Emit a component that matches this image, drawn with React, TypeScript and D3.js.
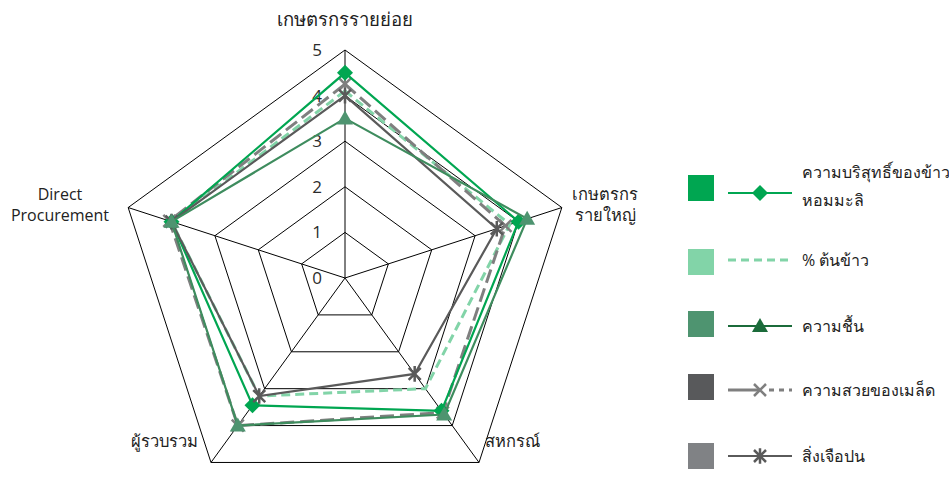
import React from "react";
import * as d3 from "d3";

// Axes of the quality radar, clockwise from the top
const axes: string[][] = [
  ["เกษตรกรรายย่อย"],
  ["เกษตรกร", "รายใหญ่"],
  ["สหกรณ์"],
  ["ผู้รวบรวม"],
  ["Direct", "Procurement"],
];

const seriesNames = [
  "ความบริสุทธิ์ของข้าวหอมมะลิ",
  "% ต้นข้าว",
  "ความชื้น",
  "ความสวยของเมล็ด",
  "สิ่งเจือปน",
];

// Scores per axis (same order as axes)
const purity = [4.5, 4.0, 3.6, 3.45, 4.0];
const headRice = [4.1, 3.8, 3.0, 3.2, 4.0];
const moisture = [3.5, 4.2, 3.7, 4.0, 4.0];
const grainLook = [4.25, 3.7, 3.65, 4.0, 4.05];
const impurity = [4.0, 3.5, 2.6, 3.2, 4.0];

const levels = [0, 1, 2, 3, 4, 5];

const W = 949;
const H = 481;
const cx = 345;
const cy = 278;
const R = 228;

const rScale = d3.scaleLinear().domain([0, 5]).range([0, R]);
const angle = (i: number) => (i * 2 * Math.PI) / axes.length;
const pt = (i: number, v: number): [number, number] => {
  const a = angle(i);
  const r = rScale(v);
  return [cx + r * Math.sin(a), cy - r * Math.cos(a)];
};

const closedLine = d3
  .line<[number, number]>()
  .x((d) => d[0])
  .y((d) => d[1])
  .curve(d3.curveLinearClosed);

type Marker = "diamond" | "none" | "triangle" | "x" | "star";

function MarkerShape({ kind, x, y, color }: { kind: Marker; x: number; y: number; color: string }) {
  if (kind === "diamond") {
    const s = 8;
    return <path d={`M${x},${y - s}L${x + s},${y}L${x},${y + s}L${x - s},${y}Z`} fill={color} />;
  }
  if (kind === "triangle") {
    const s = 8;
    return <path d={`M${x},${y - s}L${x + s},${y + s * 0.75}L${x - s},${y + s * 0.75}Z`} fill={color} />;
  }
  if (kind === "x") {
    const s = 6;
    return (
      <path
        d={`M${x - s},${y - s}L${x + s},${y + s}M${x - s},${y + s}L${x + s},${y - s}`}
        stroke={color}
        strokeWidth={2.5}
        fill="none"
      />
    );
  }
  if (kind === "star") {
    const s = 6;
    return (
      <path
        d={`M${x - s},${y - s}L${x + s},${y + s}M${x - s},${y + s}L${x + s},${y - s}M${x},${y - s * 1.3}L${x},${y + s * 1.3}`}
        stroke={color}
        strokeWidth={2.5}
        fill="none"
      />
    );
  }
  return null;
}

interface Series {
  name: string;
  values: number[];
  line: string;
  marker: string;
  markerKind: Marker;
  dash?: string;
  width: number;
  swatch: string;
  legendLine: string;
}

const series: Series[] = [
  { name: seriesNames[0], values: purity, line: "#00A651", marker: "#00A651", markerKind: "diamond", width: 2.2, swatch: "#00A651", legendLine: "#00A651" },
  { name: seriesNames[1], values: headRice, line: "#82D4A8", marker: "#82D4A8", markerKind: "none", dash: "9,5", width: 3, swatch: "#82D4A8", legendLine: "#82D4A8" },
  { name: seriesNames[2], values: moisture, line: "#3E8C5E", marker: "#4E9470", markerKind: "triangle", width: 2.2, swatch: "#4E9470", legendLine: "#1B6B3A" },
  { name: seriesNames[3], values: grainLook, line: "#7F7F7F", marker: "#7F7F7F", markerKind: "x", dash: "14,6", width: 3, swatch: "#58595B", legendLine: "#7F7F7F" },
  { name: seriesNames[4], values: impurity, line: "#5A5A5A", marker: "#5A5A5A", markerKind: "star", width: 2.2, swatch: "#808285", legendLine: "#5A5A5A" },
];

const drawOrder = [1, 3, 0, 4, 2];

const FONT = "'Open Sans', 'Noto Sans', sans-serif";

export default function App() {
  const outer = axes.map((_, i) => pt(i, 5));

  // label placement around the web
  const labelPos: { x: number; y: number; anchor: string; size: number }[] = [
    { x: cx, y: 20, anchor: "middle", size: 18.5 },
    { x: 605, y: 194, anchor: "middle", size: 16.5 },
    { x: 485, y: 441, anchor: "start", size: 16.5 },
    { x: 198, y: 441, anchor: "end", size: 16.5 },
    { x: 60, y: 194, anchor: "middle", size: 16 },
  ];

  const legendRows = [
    { lineY: 193, swTop: 175, textY: [172, 200] },
    { lineY: 260, swTop: 249, textY: [260] },
    { lineY: 326, swTop: 311, textY: [326] },
    { lineY: 390, swTop: 374, textY: [390] },
    { lineY: 456, swTop: 443, textY: [456] },
  ];
  const legendText: string[][] = [
    ["ความบริสุทธิ์ของข้าว", "หอมมะลิ"],
    [seriesNames[1]],
    [seriesNames[2]],
    [seriesNames[3]],
    [seriesNames[4]],
  ];

  return (
    <svg
      width={W}
      height={H}
      style={{ position: "fixed", left: 0, top: 0, background: "#fff", fontFamily: FONT }}
    >
      {/* grid rings */}
      {levels.slice(1).map((lv) => (
        <path
          key={lv}
          d={closedLine(axes.map((_, i) => pt(i, lv))) || ""}
          fill="none"
          stroke="#000"
          strokeWidth={1}
        />
      ))}
      {/* spokes */}
      {outer.map((p, i) => (
        <line key={i} x1={cx} y1={cy} x2={p[0]} y2={p[1]} stroke="#000" strokeWidth={1} />
      ))}
      {/* level labels */}
      {levels.map((lv) => (
        <text
          key={lv}
          x={317}
          y={cy - rScale(lv)}
          dy="0.35em"
          textAnchor="middle"
          fontSize={17}
          fill="#2b2b2b"
        >
          {lv}
        </text>
      ))}
      {/* axis labels */}
      {axes.map((lines, i) => (
        <text
          key={i}
          textAnchor={labelPos[i].anchor}
          fontSize={labelPos[i].size}
          fill="#222"
        >
          {lines.map((t, j) => (
            <tspan key={j} x={labelPos[i].x} y={labelPos[i].y + j * 21} dy="0.35em">
              {t}
            </tspan>
          ))}
        </text>
      ))}
      {/* series */}
      {drawOrder.map((si) => {
        const s = series[si];
        const pts = s.values.map((v, i) => pt(i, v));
        return (
          <g key={si}>
            <path
              d={closedLine(pts) || ""}
              fill="none"
              stroke={s.line}
              strokeWidth={s.width}
              strokeDasharray={s.dash}
              strokeLinejoin="miter"
            />
            {pts.map((p, i) => (
              <MarkerShape key={i} kind={s.markerKind} x={p[0]} y={p[1]} color={s.marker} />
            ))}
          </g>
        );
      })}
      {/* legend */}
      {series.map((s, k) => {
        const row = legendRows[k];
        const x0 = 728;
        const x1 = 792;
        const mx = 760;
        return (
          <g key={k}>
            <rect x={688} y={row.swTop} width={26} height={26} fill={s.swatch} />
            {k === 3 ? (
              <>
                <line x1={x0} y1={row.lineY} x2={mx} y2={row.lineY} stroke={s.legendLine} strokeWidth={3} />
                <line
                  x1={mx + 6}
                  y1={row.lineY}
                  x2={x1}
                  y2={row.lineY}
                  stroke={s.legendLine}
                  strokeWidth={3}
                  strokeDasharray="5,5"
                  strokeDashoffset={-3}
                />
              </>
            ) : (
              <line
                x1={x0}
                y1={row.lineY}
                x2={x1}
                y2={row.lineY}
                stroke={s.legendLine}
                strokeWidth={s.dash ? 3 : 2.2}
                strokeDasharray={s.dash ? "8,5" : undefined}
              />
            )}
            <MarkerShape kind={s.markerKind} x={mx} y={row.lineY} color={s.legendLine} />
            {legendText[k].map((t, j) => (
              <text key={j} x={802} y={row.textY[j]} dy="0.35em" fontSize={16} fill="#222">
                {t}
              </text>
            ))}
          </g>
        );
      })}
    </svg>
  );
}
